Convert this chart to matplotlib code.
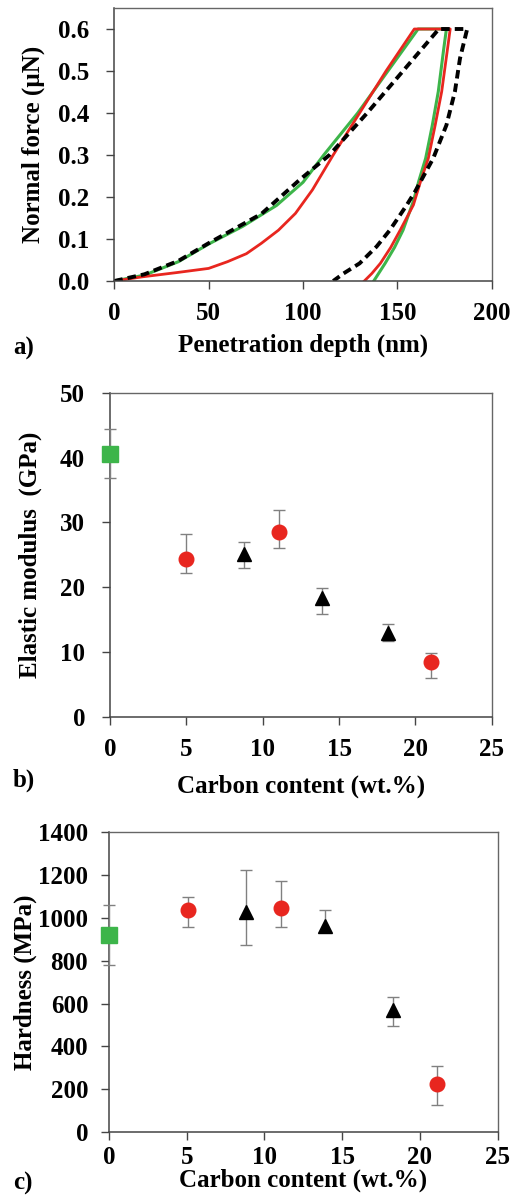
import matplotlib
matplotlib.use("Agg")
import matplotlib.pyplot as plt

# ---------------- data ----------------
# Panel a: load-displacement curves
green_x = [0, 16, 34, 50, 68, 86, 100, 111, 129, 145, 161, 176, 174.5, 171.7, 168.5, 165, 161.5, 158.5, 153, 148.5, 143.5, 137.5]
green_y = [0, 0.014, 0.046, 0.088, 0.13, 0.18, 0.235, 0.3, 0.4, 0.5, 0.6, 0.6, 0.55, 0.451, 0.37, 0.292, 0.24, 0.19, 0.121, 0.08, 0.042, 0]

red_x = [0, 15, 33, 50, 60, 70, 78, 87, 96, 105, 116, 130, 144, 159, 178, 176.5, 173.5, 170, 166.4, 162.5, 158.5, 151.5, 146.5, 141, 136.5, 132.5]
red_y = [0, 0.010, 0.020, 0.030, 0.046, 0.065, 0.09, 0.121, 0.161, 0.217, 0.3, 0.4, 0.5, 0.6, 0.6, 0.55, 0.451, 0.37, 0.292, 0.24, 0.181, 0.121, 0.08, 0.042, 0.018, 0]

dash_x = [0, 16, 34, 50, 64, 78, 98, 114, 134, 153, 172, 187, 183.2, 180.5, 176, 169, 159.4, 155, 146, 139, 130, 121.5, 116]
dash_y = [0, 0.016, 0.048, 0.09, 0.125, 0.16, 0.24, 0.3, 0.4, 0.5, 0.6, 0.6, 0.53, 0.451, 0.371, 0.292, 0.213, 0.181, 0.121, 0.082, 0.042, 0.018, 0]

# Panel b: elastic modulus
b_red_x = [5.0, 11.05, 21.05]
b_red_y = [24.3, 28.5, 8.4]
b_red_lo = [2.1, 2.4, 2.4]
b_red_hi = [3.9, 3.5, 1.4]
b_tri_x = [8.75, 13.9, 18.2]
b_tri_y = [25.1, 18.3, 12.9]
b_tri_lo = [2.1, 2.5, 1.2]
b_tri_hi = [1.9, 1.6, 1.4]
b_sq_x = [0]
b_sq_y = [40.6]
b_sq_err = [3.8]

# Panel c: hardness
c_red_x = [5.05, 11.05, 21.1]
c_red_y = [1037, 1048, 225]
c_red_lo = [79, 90, 101]
c_red_hi = [63, 126, 83]
c_tri_x = [8.8, 13.9, 18.25]
c_tri_y = [1026, 963, 568]
c_tri_lo = [152, 30, 72]
c_tri_hi = [198, 73, 63]
c_sq_x = [0]
c_sq_y = [920]
c_sq_err = [140]

a_xticks = [0, 50, 100, 150, 200]
a_yticks = [0.0, 0.1, 0.2, 0.3, 0.4, 0.5, 0.6]
bc_xticks = [0, 5, 10, 15, 20, 25]
b_yticks = [0, 10, 20, 30, 40, 50]
c_yticks = [0, 200, 400, 600, 800, 1000, 1200, 1400]

# ---------------- style ----------------
plt.rcParams['font.family'] = ['Liberation Serif', 'DejaVu Serif']
plt.rcParams['font.weight'] = 'bold'
plt.rcParams['axes.labelweight'] = 'bold'

GREEN = '#3db54a'
RED = '#e8261f'
ERRC = '#808080'
FS = 18

fig = plt.figure(figsize=(5.15, 12), dpi=100)
W, H = 515, 1200

def ax_at(l, t, r, b):
    return fig.add_axes([l / W, 1 - b / H, (r - l) / W, (b - t) / H])

def style(ax, xpad=9, ypad=9):
    for s in ['left', 'bottom']:
        ax.spines[s].set_color('#444444')
        ax.spines[s].set_linewidth(1.1)
    for s in ['top', 'right']:
        ax.spines[s].set_color('#666666')
        ax.spines[s].set_linewidth(1.0)
    ax.tick_params(direction='out', length=6, width=1.0, color='#444444',
                   labelsize=FS, top=False, right=False)
    ax.tick_params(axis='x', pad=xpad)
    ax.tick_params(axis='y', pad=ypad)
    for lab in ax.get_xticklabels() + ax.get_yticklabels():
        lab.set_fontweight('bold')

# ---------------- panel a ----------------
axa = ax_at(114.3, 8, 491.7, 281)
axa.plot(green_x, green_y, color=GREEN, lw=2.2, solid_joinstyle='round')
axa.plot(red_x, red_y, color=RED, lw=2.0, solid_joinstyle='round')
axa.plot(dash_x, dash_y, color='black', lw=2.8, dashes=(2.2, 1.3))
axa.set_xlim(0, 200)
axa.set_ylim(0, 0.65)
axa.set_xticks(a_xticks)
axa.set_yticks(a_yticks)
axa.set_yticklabels([f"{v:.1f}" for v in a_yticks])
style(axa, xpad=9, ypad=12)
axa.set_xlabel('Penetration depth (nm)', fontsize=FS, fontweight='bold', labelpad=6)
axa.set_ylabel('Normal force (\u00b5N)', fontsize=FS, fontweight='bold', labelpad=9)
fig.text(13 / W, 1 - 348 / H, 'a)', fontsize=FS, fontweight='bold', va='center', ha='left')

# ---------------- panel b / c markers ----------------
def scatter_panel(ax, rx, ry, rlo, rhi, tx, ty, tlo, thi, sx, sy, serr):
    ax.errorbar(sx, sy, yerr=serr, fmt='s', color=GREEN, ms=11.5, mec=GREEN,
                ecolor=ERRC, elinewidth=1.0, capsize=4, capthick=1.0, clip_on=False, zorder=3)
    ax.errorbar(rx, ry, yerr=[rlo, rhi], fmt='o', color=RED, ms=10.5, mec=RED,
                ecolor=ERRC, elinewidth=1.0, capsize=4, capthick=1.0, zorder=3)
    ax.errorbar(tx, ty, yerr=[tlo, thi], fmt='^', color='black', ms=9.5, mec='black',
                ecolor=ERRC, elinewidth=1.0, capsize=4, capthick=1.0, zorder=3)

axb = ax_at(110, 393, 491.7, 716.7)
scatter_panel(axb, b_red_x, b_red_y, b_red_lo, b_red_hi, b_tri_x, b_tri_y, b_tri_lo, b_tri_hi,
              b_sq_x, b_sq_y, b_sq_err)
axb.set_xlim(0, 25)
axb.set_ylim(0, 50)
axb.set_xticks(bc_xticks)
axb.set_yticks(b_yticks)
style(axb, xpad=9, ypad=12)
axb.set_xlabel('Carbon content (wt.%)', fontsize=FS, fontweight='bold', labelpad=10)
axb.set_ylabel('Elastic modulus  (GPa)', fontsize=FS, fontweight='bold', labelpad=13)
fig.text(13 / W, 1 - 780 / H, 'b)', fontsize=FS, fontweight='bold', va='center', ha='left')

# ---------------- panel c ----------------
axc = ax_at(109, 832.3, 497.7, 1132)
scatter_panel(axc, c_red_x, c_red_y, c_red_lo, c_red_hi, c_tri_x, c_tri_y, c_tri_lo, c_tri_hi,
              c_sq_x, c_sq_y, c_sq_err)
axc.set_xlim(0, 25)
axc.set_ylim(0, 1400)
axc.set_xticks(bc_xticks)
axc.set_yticks(c_yticks)
style(axc, xpad=4, ypad=9)
axc.set_xlabel('Carbon content (wt.%)', fontsize=FS, fontweight='bold', labelpad=0)
axc.set_ylabel('Hardness (MPa)', fontsize=FS, fontweight='bold', labelpad=1)
fig.text(13 / W, 1 - 1183 / H, 'c)', fontsize=FS, fontweight='bold', va='center', ha='left')

fig.savefig('out.png', dpi=100, facecolor='white')
